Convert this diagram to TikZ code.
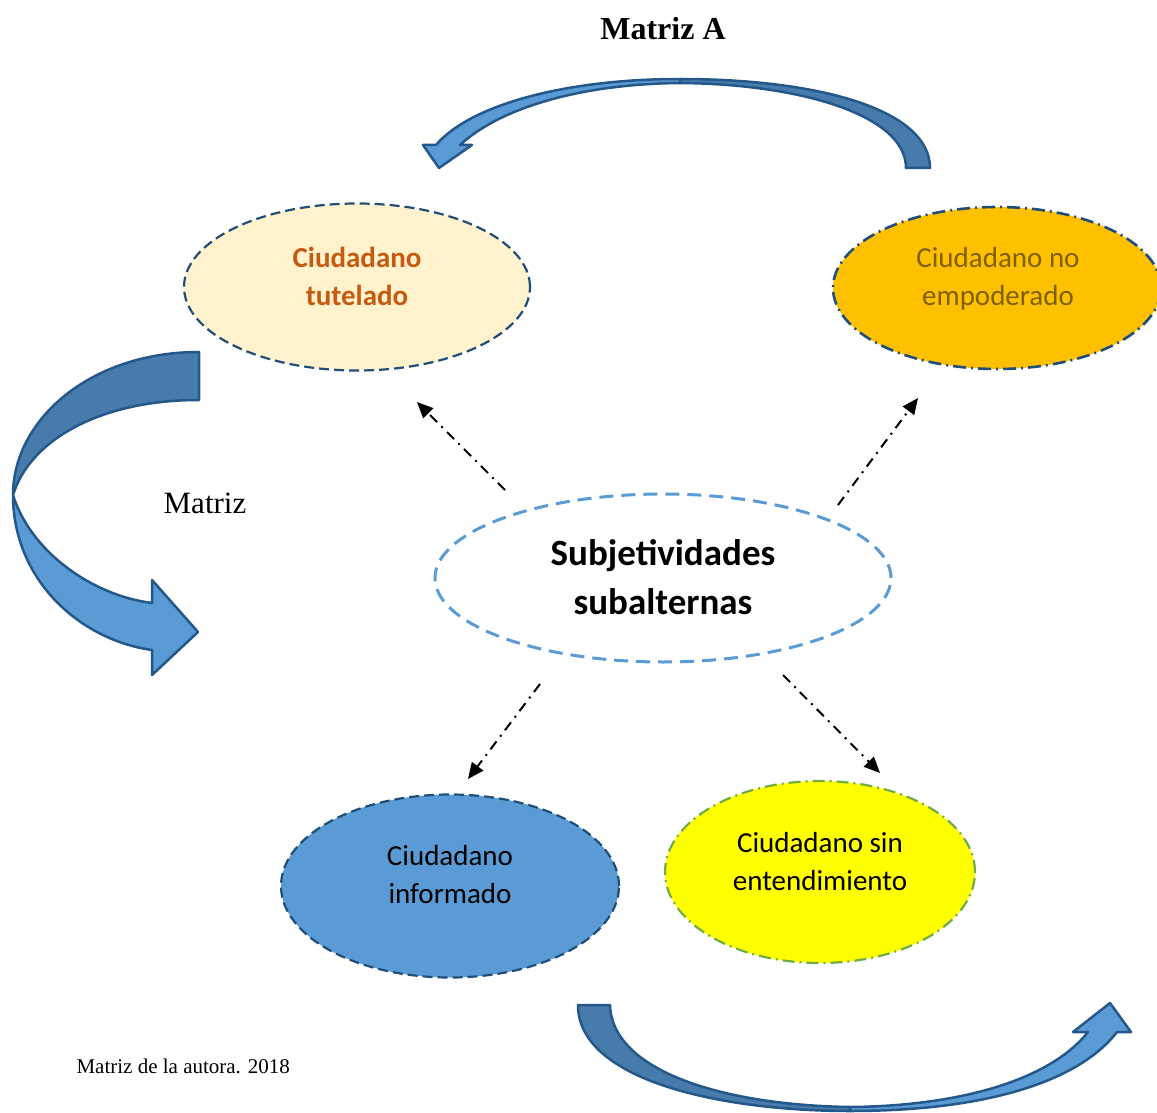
\documentclass[tikz,border=0pt]{standalone}
\usepackage{fontspec}
\setmainfont{Liberation Serif}
\newfontfamily\calibri{Carlito}
\usepackage{tikz}
\usetikzlibrary{shapes.geometric,arrows.meta}

\definecolor{navy}{HTML}{1F4E79}
\definecolor{cream}{HTML}{FFF2CC}
\definecolor{gold}{HTML}{FFC000}
\definecolor{olive}{HTML}{7F6000}
\definecolor{rust}{HTML}{C55A11}
\definecolor{skyblue}{HTML}{5B9BD5}
\definecolor{leaf}{HTML}{70AD47}
\definecolor{lemon}{HTML}{FFFF00}
\definecolor{bandback}{HTML}{477BAB}
\definecolor{bandedge}{HTML}{24578A}

\begin{document}
\begin{tikzpicture}[x=1pt,y=-1pt,
    bub/.style={ellipse,inner sep=0pt,line width=2.2pt},
    txt/.style={font=\calibri\fontsize{29}{38}\selectfont,align=center},
    ptr/.style={-{Triangle[length=16pt,width=14pt]},line width=2pt,
      dash pattern=on 10pt off 6pt on 2pt off 6pt},
    band/.style={draw=bandedge,line width=2.5pt,line join=round}]
  \useasboundingbox (0,0) rectangle (1157,1113);

  % titles
  \node[font=\bfseries\fontsize{32}{38}\selectfont] (title) at (663,29) {Matriz A};
  \node[font=\fontsize{31}{36}\selectfont] (side) at (205,503) {Matriz};
  \node[font=\fontsize{21}{25}\selectfont,anchor=west] (foot) at (73,1066) {Matriz de la autora. 2018};

  % ellipses
  \node[bub,draw=navy,fill=cream,dash pattern=on 10pt off 5pt,
    minimum width=346pt,minimum height=167pt] (tut) at (357,287) {};
  \node[bub,draw=navy,fill=gold,line width=2.6pt,dash pattern=on 13pt off 5pt on 2pt off 5pt,
    minimum width=328pt,minimum height=162pt] (noemp) at (997,288) {};
  \node[bub,draw=skyblue,line width=3pt,dash pattern=on 14pt off 8pt,
    minimum width=456pt,minimum height=168pt] (sub) at (663,578) {};
  \node[bub,draw=navy,fill=skyblue,dash pattern=on 10pt off 5pt,
    minimum width=338pt,minimum height=183pt] (inf) at (450,886) {};
  \node[bub,draw=leaf,fill=lemon,dash pattern=on 12pt off 5pt on 2pt off 5pt,
    minimum width=310pt,minimum height=182pt] (sin) at (820,872) {};

  \node[txt,text=rust,font=\calibri\bfseries\fontsize{29}{38}\selectfont] (tut-t) at (357,276) {Ciudadano\\tutelado};
  \node[txt,text=olive] (noemp-t) at (998,279) {Ciudadano no\\empoderado};
  \node[txt,font=\calibri\bfseries\fontsize{37}{49}\selectfont] (sub-t) at (663,577) {Subjetividades\\subalternas};
  \node[txt] (inf-t) at (450,875) {Ciudadano\\informado};
  \node[txt] (sin-t) at (820,862) {Ciudadano sin\\entendimiento};

  % dash-dot pointers
  \coordinate (p1) at (505,490); \coordinate (q1) at (417,402);
  \coordinate (p2) at (838,505); \coordinate (q2) at (918,398);
  \coordinate (p3) at (540,684); \coordinate (q3) at (468,779);
  \coordinate (p4) at (783,675); \coordinate (q4) at (880,773);
  \foreach \i in {1,...,4}
    \draw[ptr] (p\i) -- (q\i);

  % top curved arrow
  \draw[band,fill=bandback] (930,168) .. controls (930,110) and (820,79) .. (680,79)
    -- (680,83) .. controls (800,84) and (906,115) .. (906,168) -- cycle;
  \draw[band,fill=skyblue] (680,79) .. controls (565,79) and (470,105) .. (436,145)
    -- (423,145) -- (439,168) -- (472,145) -- (460,145)
    .. controls (500,108) and (580,84) .. (680,83) -- cycle;

  % left curved arrow
  \draw[band,fill=bandback] (199,352) .. controls (90,352) and (13,420) .. (13,495)
    .. controls (30,440) and (100,400) .. (199,400) -- cycle;
  \draw[band,fill=skyblue] (13,495) .. controls (13,580) and (80,640) .. (152,650)
    -- (152,675) -- (198,632) -- (152,580) -- (152,603)
    .. controls (90,595) and (30,550) .. (13,495) -- cycle;

  % bottom curved arrow
  \draw[band,fill=bandback] (578,1005) .. controls (578,1080) and (720,1111) .. (850,1111)
    -- (850,1107) .. controls (720,1105) and (612,1070) .. (610,1005) -- cycle;
  \draw[band,fill=skyblue] (850,1111) .. controls (990,1111) and (1080,1080) .. (1117,1032)
    -- (1131,1032) -- (1110,1003) -- (1073,1032) -- (1088,1032)
    .. controls (1050,1080) and (960,1106) .. (850,1107) -- cycle;
\end{tikzpicture}
\end{document}
